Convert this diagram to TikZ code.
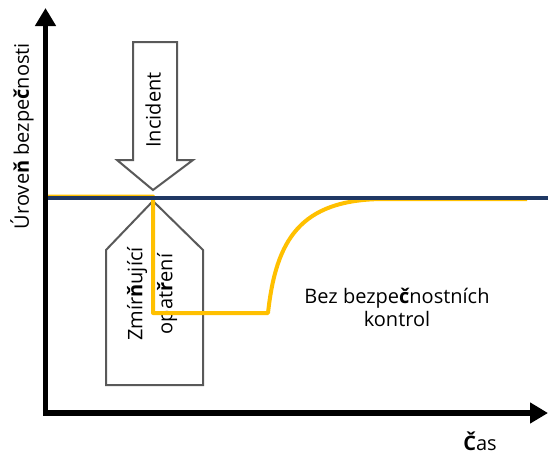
\documentclass[tikz,border=0pt]{standalone}
\usepackage{fontspec}
\setmainfont{Open Sans}
\usetikzlibrary{arrows.meta}
\definecolor{safeblue}{HTML}{1F3864}
\definecolor{levelgold}{HTML}{FFC000}
\definecolor{shapegray}{HTML}{595959}
\tikzset{
  axisline/.style={line width=5.5pt, -{Triangle[length=18pt,width=20pt]}},
  shapeline/.style={draw=shapegray, line width=2pt, fill=white, line join=miter},
  lbl/.style={font=\fontsize{20}{23}\selectfont, text=black, inner sep=0pt, align=center},
}
\begin{document}
\begin{tikzpicture}[x=1pt,y=-1pt]
  \useasboundingbox (0,0) rectangle (548,455);

  % incident arrow pointing down onto the safety level
  \draw[shapeline] (133,42) -- (177,42) -- (177,160) -- (193,160) -- (153,190)
    -- (117,160) -- (133,160) -- cycle;
  \node[lbl, rotate=90] (incident) at (153,110) {Incident};

  % mitigation block below the level
  \draw[shapeline] (153,201) -- (203,250) -- (203,385) -- (106,385) -- (106,250) -- cycle;
  \node[lbl, rotate=90, font=\fontsize{20}{30}\selectfont] (mitig) at (152,294)
    {Zmír\textbf{ň}ující\\opat\textbf{ř}ení};

  % axes
  \coordinate (origin) at (45.5,413);
  \coordinate (ytop) at (45.5,8);
  \coordinate (xend) at (548,413);
  \draw[axisline] (origin) -- (ytop);
  \draw[axisline] ([xshift=-2.75pt]origin) -- (xend);

  % safety level trajectory
  \coordinate (lvlstart) at (48,196.5);
  \coordinate (drop) at (153,196.5);
  \coordinate (low) at (153,313);
  \coordinate (recover) at (268,313);
  \coordinate (back) at (382,199);
  \coordinate (lvlend) at (527,199);
  \draw[levelgold, line width=4pt, line join=round]
    (lvlstart) -- (drop) -- (low) -- (recover)
    .. controls (276,240) and (300,200) .. (back) -- (lvlend);

  % target safety level
  \coordinate (bl) at (48,198);
  \coordinate (br) at (548,198);
  \draw[safeblue, line width=3.5pt] (bl) -- (br);

  % labels
  \node[lbl, rotate=90] (ylabel) at (22,136) {Úrove\textbf{ň} bezpe\textbf{č}nosti};
  \node[lbl, anchor=base] (xlabel) at (480,450) {\textbf{Č}as};
  \node[lbl] (nocontrol) at (397,307) {Bez bezpe\textbf{č}nostních\\kontrol};
\end{tikzpicture}
\end{document}
